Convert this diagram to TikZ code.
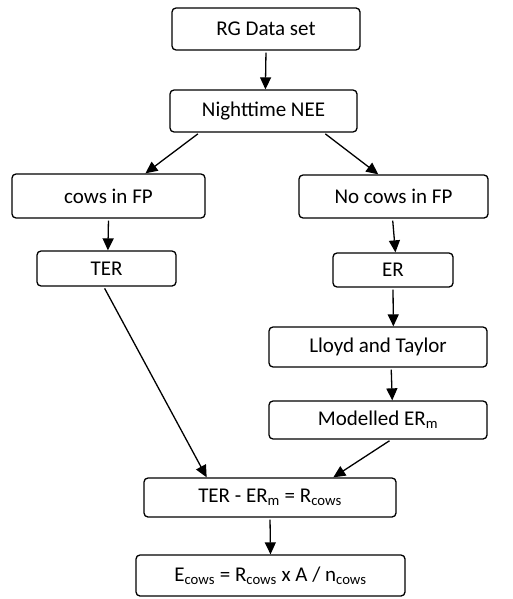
\documentclass[tikz,border=0pt]{standalone}
\usepackage{fontspec}
\setmainfont{Carlito}
\usetikzlibrary{arrows.meta,calc}
\tikzset{
  box/.style={draw, rounded corners=4pt, line width=1.3pt, inner sep=0pt,
    font=\fontsize{21}{24}\selectfont, align=center},
  conn/.style={line width=1.3pt, -{Triangle[length=12pt,width=11pt]}, shorten <=2pt},
}
\newcommand{\bx}[6]{\node[box, minimum width=#4pt, minimum height=#5pt] (#1) at (#2,#3) {#6};}
\begin{document}
\begin{tikzpicture}[x=1pt,y=-1pt]
\useasboundingbox (0,0) rectangle (512,599);
\bx{rg}{266}{29}{188}{42}{RG Data set}
\bx{nee}{263.5}{111}{187}{42}{Nighttime NEE}
\bx{cows}{108.5}{196}{193}{44}{cows in FP}
\bx{ter}{106.5}{268.5}{139}{35}{TER}
\bx{nocows}{393.5}{196.5}{189}{43}{No cows in FP}
\bx{er}{393}{270}{120}{34}{ER}
\bx{lt}{378}{347}{218}{40}{Lloyd and Taylor}
\bx{mod}{378}{420}{218}{38}{Modelled ER\textsubscript{m}}
\bx{term}{270}{497.5}{252}{39}{TER - ER\textsubscript{m} = R\textsubscript{cows}}
\bx{ecows}{270.5}{575.5}{269}{41}{E\textsubscript{cows} = R\textsubscript{cows} x A / n\textsubscript{cows}}
\newcommand{\pt}[3]{($(#1.#2 west)!#3!(#1.#2 east)$)}
\draw[conn] \pt{rg}{south}{0.5} -- \pt{nee}{north}{0.51};
\draw[conn] \pt{nee}{south}{0.16} -- \pt{cows}{north}{0.69};
\draw[conn] \pt{nee}{south}{0.82} -- \pt{nocows}{north}{0.42};
\draw[conn] \pt{cows}{south}{0.5} -- \pt{ter}{north}{0.51};
\draw[conn] \pt{nocows}{south}{0.495} -- \pt{er}{north}{0.52};
\draw[conn] \pt{er}{south}{0.5} -- \pt{lt}{north}{0.57};
\draw[conn] \pt{lt}{south}{0.56} -- \pt{mod}{north}{0.565};
\draw[conn] \pt{ter}{south}{0.48} -- \pt{term}{north}{0.25};
\draw[conn] \pt{mod}{south}{0.56} -- \pt{term}{north}{0.75};
\draw[conn] \pt{term}{south}{0.5} -- \pt{ecows}{north}{0.5};
\end{tikzpicture}
\end{document}
